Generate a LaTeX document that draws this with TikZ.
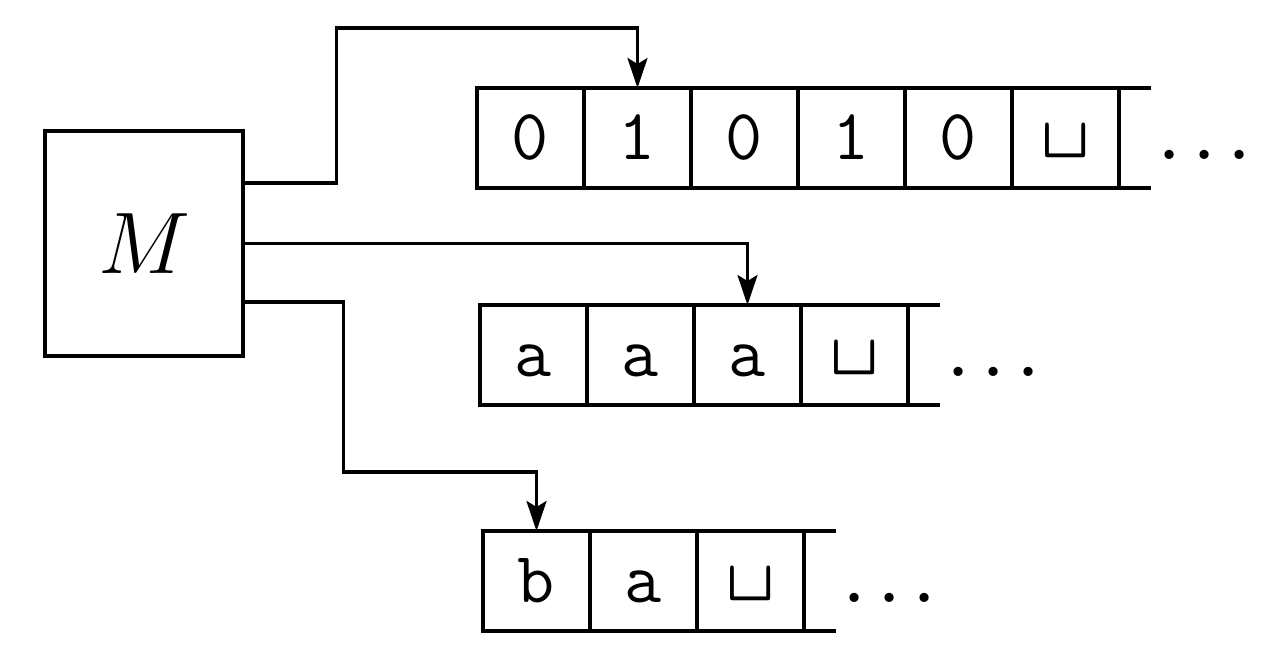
\documentclass[tikz,border=0pt]{standalone}
\usepackage{tikz}
\usetikzlibrary{arrows.meta,positioning}
\newcommand{\blanksym}{\raisebox{0.2em}{\scalebox{1.3}{\textvisiblespace}}}
\tikzset{
  ctrl/.style={draw, line width=0.9pt, minimum width=19.8mm, minimum height=22.5mm,
               inner sep=0pt, font=\fontsize{30}{36}\selectfont},
  cell/.style={draw, line width=0.9pt, minimum width=10.7mm, minimum height=10mm,
               inner sep=0pt, outer sep=0pt, text height=12.5pt, text depth=0pt,
               font=\ttfamily\fontsize{20.5}{24}\selectfont},
  rail/.style={line width=0.9pt},
  head/.style={-{Stealth[length=3mm, width=2mm, inset=0.6mm]}, line width=0.9pt},
  dots/.style={font=\fontsize{32}{36}\selectfont, inner sep=0pt},
}

\begin{document}
\begin{tikzpicture}[x=0.1mm, y=-0.1mm]
    \useasboundingbox (0,0) rectangle (1280,663);
    % finite control
    \node[ctrl] (ctrl) at (144,243.5) {$M$};
    % the three tapes
    \foreach \t/\x/\y/\n/\syms in {1/477/88/6/{0,1,0,1,0,\blanksym},
                                   2/480/305/4/{a,a,a,\blanksym},
                                   3/483/531/3/{b,a,\blanksym}}
      { \foreach \c [count=\i, remember=\i as \j (initially 0)] in \syms
          { \ifnum\i=1
              \node[cell, anchor=north west] (t\t-1) at (\x,\y) {\c};
            \else
              \node[cell, right=0pt of t\t-\j] (t\t-\i) {\c};
            \fi }
        \draw[rail] (t\t-\n.north east) -- ++(32,0);
        \draw[rail] (t\t-\n.south east) -- ++(32,0);
        \node[dots, anchor=base west] (d\t) at ([xshift=3.6mm]t\t-\n.base east)
          {.\hspace{0.7mm}.\hspace{0.7mm}.}; }
    % heads
    \draw[head] ([yshift=6.05mm]ctrl.east) -- ++(92,0) -- ++(0,-155) -| (t1-2.north);
    \draw[head] (ctrl.east) -| (t2-3.north);
    \draw[head] ([yshift=-5.85mm]ctrl.east) -- ++(99,0) -- ++(0,170) -| (t3-1.north);
  \end{tikzpicture}
\end{document}
